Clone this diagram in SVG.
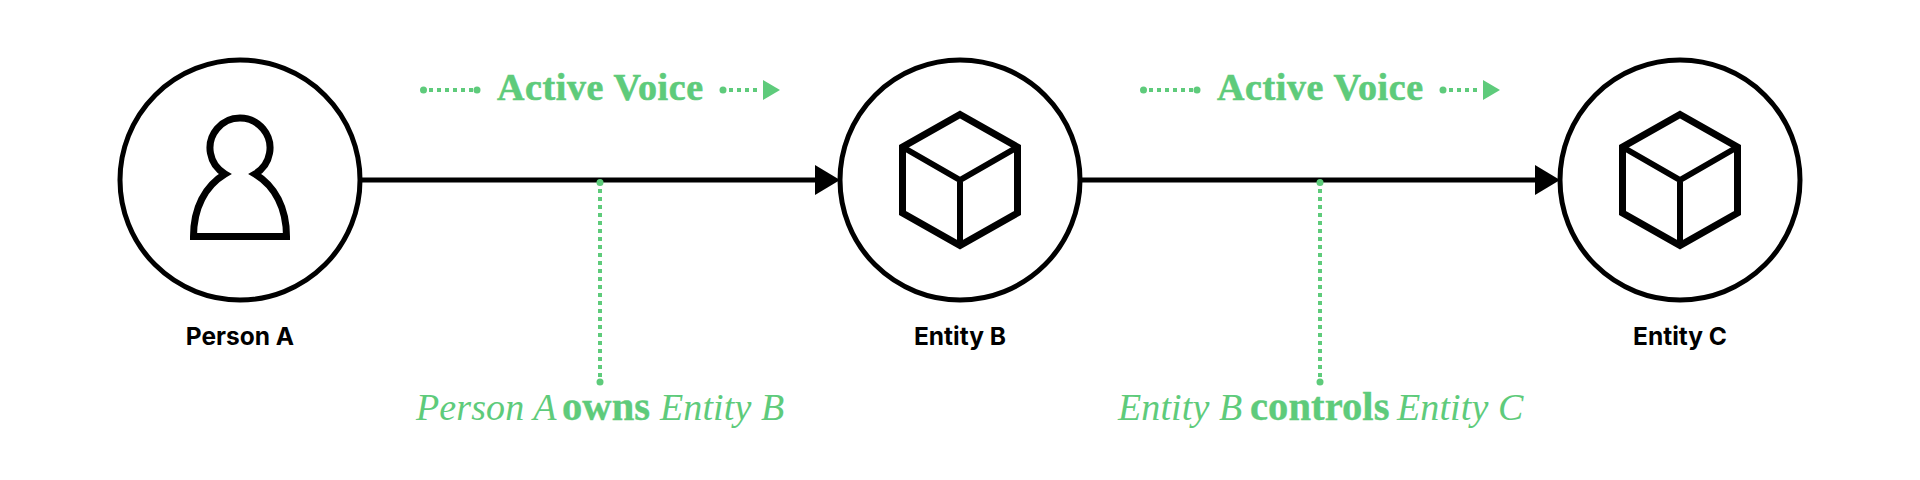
<svg xmlns="http://www.w3.org/2000/svg" width="1920" height="480" viewBox="0 0 1920 480">
<style>
.ring{fill:#fff;stroke:#000;stroke-width:5}
.icon{fill:none;stroke:#000;stroke-width:7;stroke-miterlimit:10}
.spoke{fill:none;stroke:#000;stroke-width:6}
.label{font-family:"Inter","Liberation Sans",sans-serif;font-weight:700;font-size:24.500px;fill:#000;text-anchor:middle}
.conn{stroke:#000;stroke-width:5;fill:none}
.dots{stroke:#5ecb7b;stroke-width:4;stroke-dasharray:4 4;fill:none}
.end{fill:#5ecb7b}
.title{font-family:"Liberation Serif",serif;font-weight:700;font-size:38px;letter-spacing:.6px;fill:#5ecb7b;stroke:#5ecb7b;stroke-width:.6}
.note{font-family:"Liberation Serif",serif;font-style:italic;font-size:38px;letter-spacing:.1px;fill:#5ecb7b}
.note .b{font-style:normal;font-weight:700;font-size:40.500px;stroke:#5ecb7b;stroke-width:.4}
</style>
<defs>
<g id="cube">
<polygon class="icon" points="0,-65.500 57.500,-33 57.500,33 0,65.500 -57.500,33 -57.500,-33"/>
<path class="spoke" d="M-57.500,-33 L0,0 L57.500,-33 M0,0 V65.500"/>
</g>
<g id="flow">
<circle class="end" cx="423.500" cy="90" r="3.500"/>
<line class="dots" x1="429" y1="90" x2="473" y2="90"/>
<circle class="end" cx="477" cy="90" r="3.500"/>
<circle class="end" cx="723" cy="90" r="3.500"/>
<line class="dots" x1="729" y1="90" x2="761" y2="90"/>
<polygon class="end" points="763,80 780,90 763,100"/>
</g>
</defs>
<g id="connectors">
<line class="conn" x1="360" y1="180" x2="816" y2="180"/>
<polygon points="815,165 840,180 815,195" fill="#000"/>
<line class="conn" x1="1080" y1="180" x2="1536" y2="180"/>
<polygon points="1535,165 1560,180 1535,195" fill="#000"/>
<use href="#flow"/>
<use href="#flow" x="720"/>
<circle class="end" cx="600" cy="182.500" r="3.500"/>
<line class="dots" x1="600" y1="189" x2="600" y2="377"/>
<circle class="end" cx="600" cy="382" r="3.500"/>
<circle class="end" cx="1320" cy="182.500" r="3.500"/>
<line class="dots" x1="1320" y1="189" x2="1320" y2="377"/>
<circle class="end" cx="1320" cy="382" r="3.500"/>
</g>
<g id="person-a">
<circle class="ring" cx="240" cy="180" r="120"/>
<path class="icon" d="M193.500,236.500 C193.500,208 205,186 225,174 A30,30 0 1 1 255,174 C275,186 286.500,208 286.500,236.500 Z"/>
<text class="label" x="240" y="345">Person A</text>
</g>
<g id="entity-b">
<circle class="ring" cx="960" cy="180" r="120"/>
<use href="#cube" x="960" y="180"/>
<text class="label" x="960" y="345">Entity B</text>
</g>
<g id="entity-c">
<circle class="ring" cx="1680" cy="180" r="120"/>
<use href="#cube" x="1680" y="180"/>
<text class="label" x="1680" y="345">Entity C</text>
</g>
<g id="texts">
<text class="title" x="497" y="100">Active Voice</text>
<text class="title" x="1217" y="100">Active Voice</text>
<text class="note" y="420"><tspan x="416">Person A</tspan> <tspan class="b" x="562">owns</tspan> <tspan x="660">Entity B</tspan></text>
<text class="note" y="420"><tspan x="1118">Entity B</tspan> <tspan class="b" x="1250">controls</tspan> <tspan x="1397">Entity C</tspan></text>
</g>
</svg>
